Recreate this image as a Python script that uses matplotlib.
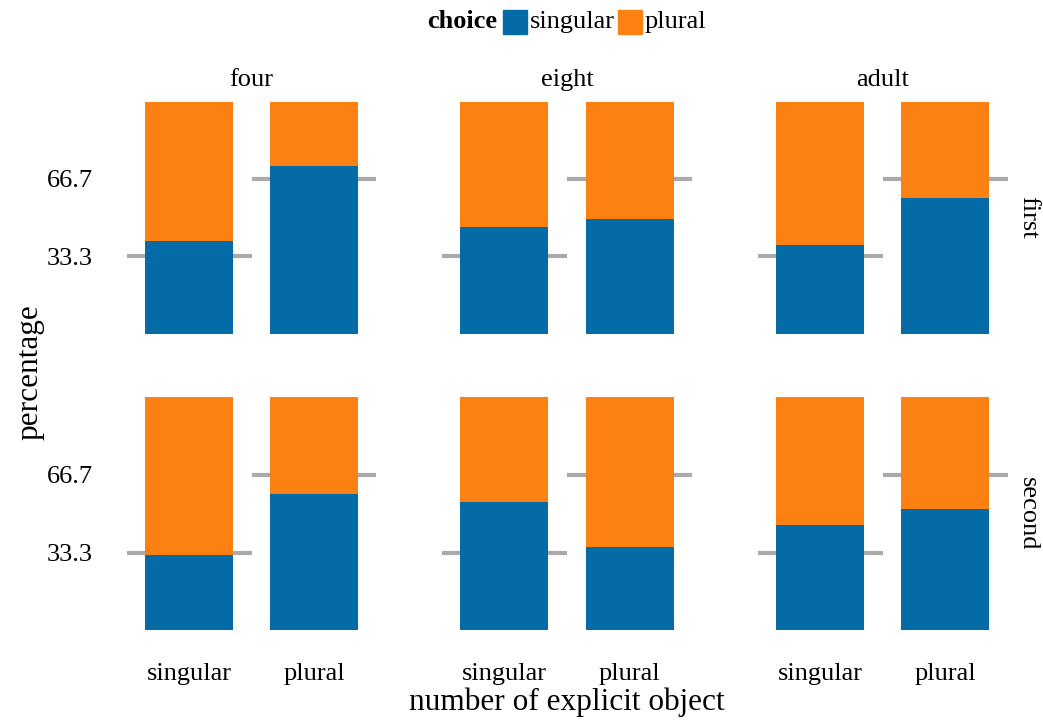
import matplotlib
matplotlib.use("Agg")
import matplotlib.pyplot as plt
from matplotlib.patches import Rectangle

plt.rcParams["font.family"] = ["Liberation Serif", "DejaVu Serif"]

# Facets and categories
ages = ["four", "eight", "adult"]
positions = ["first", "second"]
objects = ["singular", "plural"]
choices = ["singular", "plural"]

# Percentage of "singular" choices, per position row, age column, object category
singular_pct = {
    "first":  {"four": [40.0, 72.2], "eight": [45.9, 49.4], "adult": [38.2, 58.4]},
    "second": {"four": [32.3, 58.5], "eight": [55.1, 35.8], "adult": [45.2, 52.1]},
}
# Chance reference level for each object category
reference_pct = [33.3, 66.7]
y_ticks = [33.3, 66.7]
y_ticklabels = ["33.3", "66.7"]

colors = {"singular": "#046BA6", "plural": "#FD8012"}
ref_color = "#AAAAAA"

FS = 19
TITLE_FS = 22.5

W, H = 1043, 720
fig = plt.figure(figsize=(W / 100, H / 100), dpi=100)

# panel geometry in pixels: (left, right) and (y of 100%, y of 0%)
col_px = [(114, 389), (429, 705), (745, 1020)]
row_px = [(101.6, 333.6), (397.0, 630.3)]

for r, pos in enumerate(positions):
    y_top, y_bot = row_px[r]
    for c, age in enumerate(ages):
        x0, x1 = col_px[c]
        ax = fig.add_axes([x0 / W, (H - y_bot) / H, (x1 - x0) / W, (y_bot - y_top) / H])
        xs = list(range(len(objects)))
        sing = singular_pct[pos][age]
        plur = [100 - v for v in sing]
        for i, x in enumerate(xs):
            ax.plot([x - 0.5, x + 0.5], [reference_pct[i]] * 2, color=ref_color,
                    lw=3, solid_capstyle="butt", zorder=1)
        ax.bar(xs, sing, width=0.7, color=colors["singular"], zorder=2, linewidth=0)
        ax.bar(xs, plur, bottom=sing, width=0.7, color=colors["plural"], zorder=2, linewidth=0)
        ax.set_xlim(-0.6, len(objects) - 0.4)
        ax.set_ylim(0, 100)
        for s in ax.spines.values():
            s.set_visible(False)
        ax.tick_params(length=0, labelsize=FS)
        ax.set_yticks(y_ticks)
        if c == 0:
            ax.set_yticklabels(y_ticklabels)
            ax.tick_params(axis="y", pad=15)
        else:
            ax.set_yticklabels([])
        if r == len(positions) - 1:
            ax.set_xticks(xs)
            ax.set_xticklabels(objects)
            ax.tick_params(axis="x", pad=23.5)
        else:
            ax.set_xticks([])
        if r == 0:
            ax.set_title(age, fontsize=FS, pad=11.5)
        if c == len(ages) - 1:
            ax.text(1.03, 0.5, pos, transform=ax.transAxes, rotation=-90,
                    ha="center", va="center", fontsize=FS)

# axis titles
fig.text(30 / W, 1 - 372 / H, "percentage", rotation=90, ha="center", va="center",
         fontsize=TITLE_FS)
fig.text(567 / W, 1 - 702 / H, "number of explicit object", ha="center", va="center",
         fontsize=TITLE_FS)

# legend
ly = 1 - 22 / H
fig.text(497 / W, ly, "choice", ha="right", va="center", fontsize=FS, fontweight="bold")
fig.patches.append(Rectangle((503 / W, 1 - 34 / H), 24 / W, 24 / H,
                             transform=fig.transFigure, color=colors["singular"], figure=fig))
fig.text(530 / W, ly, choices[0], ha="left", va="center", fontsize=FS)
fig.patches.append(Rectangle((618 / W, 1 - 34 / H), 24 / W, 24 / H,
                             transform=fig.transFigure, color=colors["plural"], figure=fig))
fig.text(645 / W, ly, choices[1], ha="left", va="center", fontsize=FS)

fig.savefig("out.png", dpi=100)
